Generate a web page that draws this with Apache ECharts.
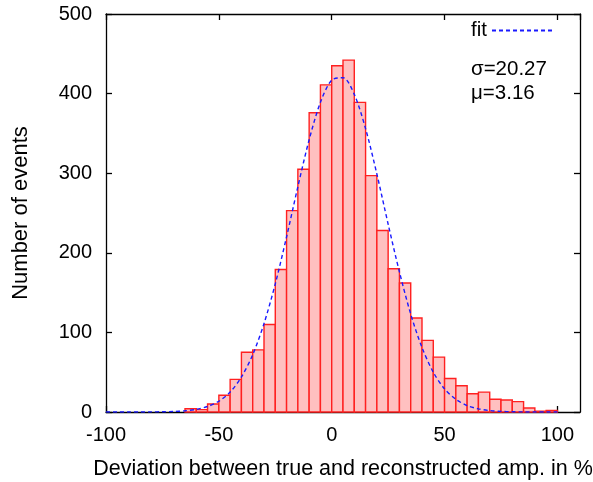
<!DOCTYPE html>
<html>
<head>
<meta charset="utf-8">
<script src="https://cdn.jsdelivr.net/npm/echarts@6/dist/echarts.min.js"></script>
<style>
html,body{margin:0;padding:0;background:#fff;}
#c{width:593px;height:482px;}
</style>
</head>
<body>
<div id="c"></div>
<script>
// Histogram bins (left edge, width 5) and counts
var binStart = [-65,-60,-55,-50,-45,-40,-35,-30,-25,-20,-15,-10,-5,0,5,10,15,20,25,30,35,40,45,50,55,60,65,70,75,80,85,90,95];
var counts   = [4,3,10,21,41,75,78,110,179,253,305,376,411,435,442,389,297,228,180,162,118,90,69,42,33,23,25,16,15,13,5,1,2];
var binWidth = 5;

// Fit curve
var fitX = [-100,-95,-90,-85,-80,-75,-70,-65,-60,-55,-50,-45,-40,-35,-30,-25,-20,-15,-10,-5,0,5,10,15,20,25,30,35,40,45,50,55,60,65,70,75,80,85,90,95,100];
var fitY = [0,0,0,0,0.1,0.3,0.6,1.5,3.3,6.9,13.5,25,44,72,111,161,220,283,342,389,417,420,399,356,299,236,176,123,81,50,29,16,8,4,1.8,0.8,0.3,0.1,0,0,0];

var xTicks = [-100,-50,0,50,100];
var yTicks = [0,100,200,300,400,500];

var fontFam = '"Liberation Sans", Arial, sans-serif';
var chart = echarts.init(document.getElementById('c'));

var histData = binStart.map(function(s,i){ return [s, s+binWidth, counts[i]]; });
var fitData = fitX.map(function(x,i){ return [x, fitY[i]]; });

var axisLineStyle = {color:'#000', width:1.3};
chart.setOption({
  animation:false,
  backgroundColor:'#fff',
  grid:{left:106, right:13, top:14, bottom:70, containLabel:false, outerBoundsMode:'none'},
  legend:{
    data:[{name:'fit'}],
    right:38, top:20, padding:0,
    align:'right',
    itemWidth:62, itemHeight:10, itemGap:9,
    itemStyle:{opacity:0},
    textStyle:{fontFamily:fontFam, fontSize:20.5, color:'#000'}
  },
  graphic:[
    {type:'text', left:471, top:59, style:{text:'σ=20.27', font:'20.5px '+fontFam, fill:'#000'}},
    {type:'text', left:471, top:83, style:{text:'μ=3.16', font:'20.5px '+fontFam, fill:'#000'}}
  ],
  xAxis:[{
    type:'value', min:-100, max:110, interval:50,
    name:'Deviation between true and reconstructed amp. in %',
    nameLocation:'middle', nameGap:46,
    nameTextStyle:{fontFamily:fontFam, fontSize:21.5, color:'#000'},
    axisLine:{show:true, onZero:false, lineStyle:axisLineStyle},
    axisTick:{show:true, inside:true, length:6, lineStyle:axisLineStyle},
    axisLabel:{show:true, showMaxLabel:false, margin:13, fontFamily:fontFam, fontSize:20, color:'#000',
      formatter:function(v){ return xTicks.indexOf(v) >= 0 ? String(v) : ''; }},
    splitLine:{show:false}
  },{
    type:'value', position:'top', min:-100, max:110, interval:50,
    axisLine:{show:true, onZero:false, lineStyle:axisLineStyle},
    axisTick:{show:true, inside:true, length:6, lineStyle:axisLineStyle},
    axisLabel:{show:false}, splitLine:{show:false}
  }],
  yAxis:[{
    type:'value', min:0, max:500, interval:100,
    name:'Number of events', nameLocation:'middle', nameGap:74,
    nameTextStyle:{fontFamily:fontFam, fontSize:22, color:'#000'},
    axisLine:{show:true, onZero:false, lineStyle:axisLineStyle},
    axisTick:{show:true, inside:true, length:6, lineStyle:axisLineStyle},
    axisLabel:{show:true, margin:14, fontFamily:fontFam, fontSize:20, color:'#000',
      formatter:function(v){ return yTicks.indexOf(v) >= 0 ? String(v) : ''; }},
    splitLine:{show:false}
  },{
    type:'value', position:'right', min:0, max:500, interval:100,
    axisLine:{show:true, onZero:false, lineStyle:axisLineStyle},
    axisTick:{show:true, inside:true, length:6, lineStyle:axisLineStyle},
    axisLabel:{show:false}, splitLine:{show:false}
  }],
  series:[{
    type:'custom', name:'hist', xAxisIndex:0, yAxisIndex:0,
    data:histData,
    encode:{x:[0,1], y:2},
    renderItem:function(params, api){
      var p0 = api.coord([api.value(0), api.value(2)]);
      var p1 = api.coord([api.value(1), 0]);
      return {
        type:'rect',
        shape:{x:p0[0], y:p0[1], width:p1[0]-p0[0], height:p1[1]-p0[1]},
        style:{fill:'#ffc0c0', stroke:'#ff2020', lineWidth:1.4}
      };
    },
    z:2
  },{
    type:'line', name:'fit', xAxisIndex:0, yAxisIndex:0,
    data:fitData, symbol:'none', smooth:0.3,
    lineStyle:{color:'#1a1aff', width:1.4, type:[4,3]},
    itemStyle:{color:'#1a1aff'},
    z:3
  }]
});
</script>
</body>
</html>
